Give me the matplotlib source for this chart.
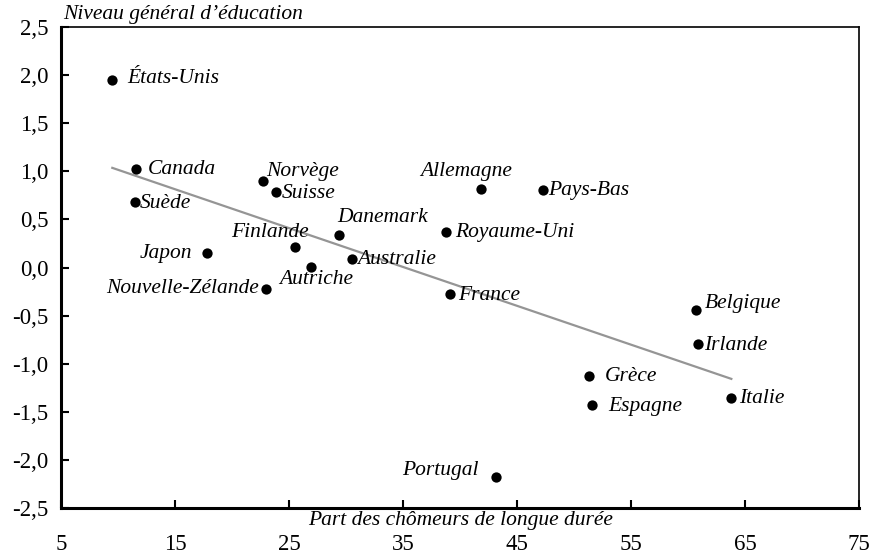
import numpy as np
import matplotlib
matplotlib.use("Agg")
import matplotlib.pyplot as plt
from matplotlib.ticker import FuncFormatter, MultipleLocator

plt.rcParams['font.family'] = ['Liberation Serif', 'DejaVu Serif']

countries = ["États-Unis", "Canada", "Suède", "Japon", "Norvège", "Suisse",
             "Finlande", "Autriche", "Nouvelle-Zélande", "Danemark", "Australie",
             "Allemagne", "Pays-Bas", "Royaume-Uni", "France", "Belgique",
             "Irlande", "Grèce", "Espagne", "Italie", "Portugal"]
long_term_share = [9.5, 11.6, 11.5, 17.8, 22.7, 23.9,
                   25.5, 26.9, 23.0, 29.4, 30.5,
                   41.8, 47.3, 38.8, 39.1, 60.7,
                   60.9, 51.3, 51.6, 63.8, 43.2]
education_level = [1.95, 1.02, 0.68, 0.15, 0.90, 0.78,
                   0.21, 0.01, -0.22, 0.34, 0.09,
                   0.82, 0.81, 0.37, -0.28, -0.44,
                   -0.80, -1.13, -1.43, -1.36, -2.18]

# label placement: (dx, dy) in pixels, horizontal alignment
label_pos = {
    "États-Unis": (15, 1, "left"), "Canada": (12, 0, "left"), "Suède": (5, -1, "left"),
    "Japon": (-15, 0, "right"), "Norvège": (3, 9, "left"), "Suisse": (5, -1, "left"),
    "Finlande": (-25, 15, "center"), "Autriche": (6, -13, "center"),
    "Nouvelle-Zélande": (-7, 0, "right"), "Danemark": (-2, 17, "left"),
    "Australie": (5, -1, "left"), "Allemagne": (-14, 17, "center"),
    "Pays-Bas": (5, -1, "left"), "Royaume-Uni": (9, -1, "left"), "France": (8, -1, "left"),
    "Belgique": (9, 6, "left"), "Irlande": (6, -1, "left"), "Grèce": (16, 0, "left"),
    "Espagne": (16, -1, "left"), "Italie": (8, 0, "left"), "Portugal": (-18, 7, "right"),
}

x_ticks = [5, 15, 25, 35, 45, 55, 65, 75]

W, H = 878, 556
fig = plt.figure(figsize=(W / 100, H / 100), dpi=100)
ax = fig.add_axes([61 / W, (H - 508) / H, 798 / W, 481 / H])

x = np.array(long_term_share)
y = np.array(education_level)

# least-squares trend line over the observed range
slope, intercept = np.polyfit(x, y, 1)
xs = np.array([x.min(), x.max()])
ax.plot(xs, slope * xs + intercept, color="#959595", lw=1.6, zorder=1)

ax.scatter(x, y, s=55, color="black", zorder=3, linewidths=0)

for name, xv, yv in zip(countries, x, y):
    dx, dy, ha = label_pos[name]
    ax.annotate(name, (xv, yv), xytext=(dx, dy), textcoords="offset pixels",
                ha=ha, va="center", fontsize=15.5, fontstyle="italic", zorder=4)

ax.set_xlim(5, 75)
ax.set_ylim(-2.5, 2.5)
ax.set_xticks(x_ticks)
ax.yaxis.set_major_locator(MultipleLocator(0.5))
ax.xaxis.set_major_formatter(FuncFormatter(lambda v, p: f"{v:.0f}"))
ax.yaxis.set_major_formatter(FuncFormatter(lambda v, p: f"{v:.1f}".replace(".", ",")))

ax.tick_params(axis="both", direction="in", length=6, width=1.5, labelsize=16.5)
ax.tick_params(axis="x", pad=19)
ax.tick_params(axis="y", pad=9)

for side in ("left", "bottom"):
    ax.spines[side].set_linewidth(2.2)
for side in ("top", "right"):
    ax.spines[side].set_linewidth(1.2)

fig.text(63 / W, 1 - 14 / H, "Niveau général d’éducation", fontsize=15.5,
         fontstyle="italic", ha="left", va="center")
fig.text(461 / W, 1 - 521 / H, "Part des chômeurs de longue durée", fontsize=15.5,
         fontstyle="italic", ha="center", va="center")

fig.savefig("out.png", dpi=100)
